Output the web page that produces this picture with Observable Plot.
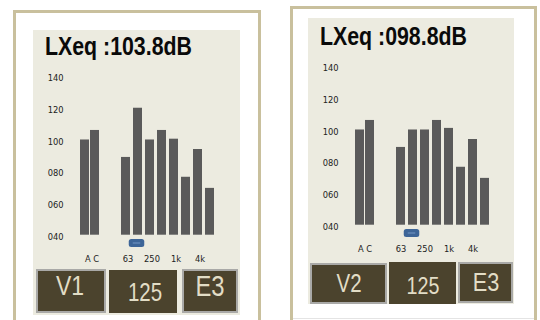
<!DOCTYPE html>
<html>
<head>
<meta charset="utf-8">
<script src="https://cdn.jsdelivr.net/npm/d3@7"></script>
<script src="https://cdn.jsdelivr.net/npm/@observablehq/plot@0.6"></script>
<style>
  html, body { margin: 0; padding: 0; background: #ffffff; }
  #root { position: relative; width: 540px; height: 320px; overflow: hidden; background: #ffffff; }
  .frame { position: absolute; border: 3px solid #c9c09d; border-bottom: none; box-sizing: border-box; background: #ffffff; }
  .screen { position: absolute; background: #ecebe0; }
  .title { position: absolute; font-family: "Liberation Sans", Arial, sans-serif; font-weight: bold; color: #0a0a0a; line-height: 1; white-space: nowrap; transform-origin: 0 0; transform: scaleX(0.82); }
  .btn { position: absolute; background: #4b432d; box-sizing: border-box; }
  .btn.bordered { border: 2px solid #a9a9a7; }
  .btxt { position: absolute; font-family: "Liberation Sans", Arial, sans-serif; color: #e2ddc6; line-height: 1; white-space: nowrap; transform: translateX(-50%) scaleX(0.82); }
  .chart { position: absolute; }
</style>
</head>
<body>
<div id="root"></div>
<script>
// ---- data ----
const slots = ["AC", "g1", "g2", "63", "125", "250", "500", "1k", "2k", "4k", "8k"];
const octaveBands = ["63", "125", "250", "500", "1k", "2k", "4k", "8k"];
const weightBands = ["A", "C"];
const v1Octave = [89, 120, 100, 106, 100.5, 76.5, 94, 69.5];
const v1Weight = [100, 106];
const v2Octave = [89, 100, 100, 106, 101, 76.5, 94, 69.5];
const v2Weight = [100, 106];
const yTicks = [40, 60, 80, 100, 120, 140];
const xTicks = ["AC", "63", "250", "1k", "4k"];
const titles = ["LXeq :103.8dB", "LXeq :098.8dB"];
const buttonLabels = [["V1", "125", "E3"], ["V2", "125", "E3"]];
const selectedBand = "125";

// ---- layout (page pixels) ----
const panels = [
  {
    octave: v1Octave, weight: v1Weight, title: titles[0], buttons: buttonLabels[0],
    frame: {l: 13, t: 10, w: 248, h: 320},
    screen: {l: 33, t: 30, w: 207, h: 285},
    titlePos: {l: 45, t: 33, fs: 26},
    chart: {l: 33, t: 30}, labelDx: 2,
    btns: [
      {l: 36, t: 269, w: 70, h: 44, b: true, cx: 70, top: 272.3, fs: 28},
      {l: 109, t: 270, w: 68, h: 43, b: false, cx: 145, top: 279.5, fs: 25},
      {l: 182, t: 269, w: 56, h: 44, b: true, cx: 209.5, top: 271.5, fs: 29}
    ]
  },
  {
    octave: v2Octave, weight: v2Weight, title: titles[1], buttons: buttonLabels[1],
    frame: {l: 290, t: 6, w: 247, h: 320},
    screen: {l: 308, t: 18, w: 206, h: 286},
    titlePos: {l: 320, t: 23, fs: 26},
    chart: {l: 308, t: 20}, labelDx: 0,
    btns: [
      {l: 310, t: 263, w: 77, h: 41, b: true, cx: 348.5, top: 270.8, fs: 25},
      {l: 389, t: 262, w: 67, h: 42, b: false, cx: 423, top: 273.7, fs: 24},
      {l: 458, t: 262, w: 55, h: 41, b: true, cx: 486, top: 269.3, fs: 26.5}
    ]
  }
];

const root = document.getElementById("root");
function box(cls, r) {
  const d = document.createElement("div");
  d.className = cls;
  d.style.left = r.l + "px"; d.style.top = r.t + "px";
  if (r.w != null) d.style.width = r.w + "px";
  if (r.h != null) d.style.height = r.h + "px";
  root.appendChild(d);
  return d;
}

const barFill = "#5a5a5a";

panels.forEach(p => {
  box("frame", p.frame);
  box("screen", p.screen);
  const t = box("title", {l: p.titlePos.l, t: p.titlePos.t});
  t.style.fontSize = p.titlePos.fs + "px";
  t.textContent = p.title;

  const octData = octaveBands.map((b, i) => ({band: b, value: p.octave[i]}));
  const wData = weightBands.map((b, i) => ({band: b, value: p.weight[i]}));

  const chart = Plot.plot({
    width: 207, height: 240,
    marginTop: 46, marginBottom: 35.3, marginLeft: 48.6, marginRight: 21.5,
    x: {type: "band", domain: slots, padding: 0.22, axis: null, label: null},
    y: {domain: [40, 140], axis: null, label: null},
    style: {background: "transparent", color: "#222", fontFamily: "DejaVu Sans, sans-serif", fontSize: "8.5px", overflow: "visible"},
    marks: [
      Plot.axisY({ticks: yTicks, tickSize: 0, tickPadding: 18.6, dy: 2, label: null, tickFormat: d3.format("03d"), fontSize: 8.3}),
      Plot.axisX({ticks: xTicks, tickSize: 0, tickPadding: 21, dx: p.labelDx, label: null, fontSize: 8.3, tickFormat: d => d === "AC" ? "A C" : d}),
      Plot.barY(octData, {x: "band", y1: 40, y2: "value", fill: barFill}),
      Plot.barY(wData.filter(d => d.band === "A"), {x: () => "AC", y1: 40, y2: "value", dx: -5, fill: barFill}),
      Plot.barY(wData.filter(d => d.band === "C"), {x: () => "AC", y1: 40, y2: "value", dx: 5, fill: barFill}),
      Plot.barY([selectedBand], {x: d => d, y1: 40, y2: 40, dx: -1, insetTop: 4.3, insetBottom: -12.3, insetLeft: -3.25, insetRight: -3.25, fill: "#3d6598", rx: 2.5}),
      Plot.barY([selectedBand], {x: d => d, y1: 40, y2: 40, dx: -1, insetTop: 7.8, insetBottom: -8.8, insetLeft: 0.75, insetRight: 0.75, fill: "#7497c6"})
    ]
  });
  const holder = box("chart", {l: p.chart.l, t: p.chart.t});
  holder.appendChild(chart);

  p.btns.forEach((b, i) => {
    box("btn" + (b.b ? " bordered" : ""), b);
    const s = box("btxt", {l: b.cx, t: b.top});
    s.style.fontSize = b.fs + "px";
    s.textContent = p.buttons[i];
  });
});
// faint bottom edge of right frame
box("screen", {l: 293, t: 318, w: 241, h: 1}).style.background = "#e4e4e4";
</script>
</body>
</html>
